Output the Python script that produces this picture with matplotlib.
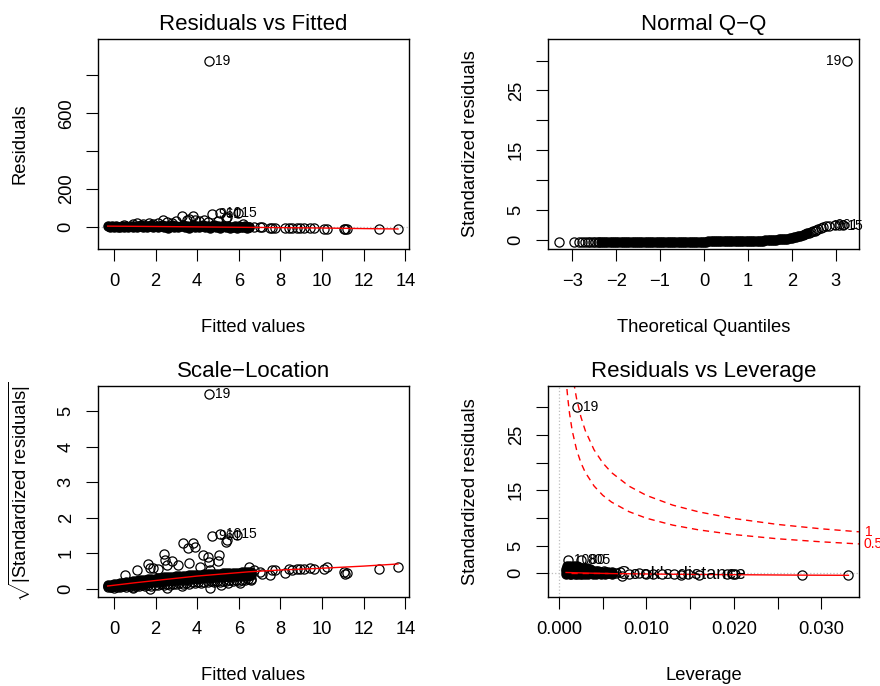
import matplotlib
matplotlib.use("Agg")
import matplotlib.pyplot as plt
from matplotlib.lines import Line2D

plt.rcParams['font.family'] = ['Liberation Sans', 'DejaVu Sans']
plt.rcParams['mathtext.fontset'] = 'custom'
plt.rcParams['mathtext.rm'] = 'Liberation Sans'
plt.rcParams['mathtext.it'] = 'Liberation Sans:italic'

# ---- Residuals vs Fitted / Scale-Location (shared fitted values) ----
fit_band = [-0.3, -0.2, -0.1, 0.0, 0.1, 0.2, 0.3, 0.4, 0.5, 0.6,
            0.7, 0.8, 0.9, 1.0, 1.1, 1.2, 1.3, 1.4, 1.5, 1.6,
            1.7, 1.8, 1.9, 2.0, 2.1, 2.2, 2.3, 2.4, 2.5, 2.6,
            2.7, 2.8, 2.9, 3.0, 3.1, 3.2, 3.3, 3.4, 3.5, 3.6,
            3.7, 3.8, 3.9, 4.0, 4.1, 4.2, 4.3, 4.4, 4.5, 4.6,
            4.7, 4.8, 4.9, 5.0, 5.1, 5.2, 5.3, 5.4, 5.5, 5.6,
            5.7, 5.8, 5.9, 6.0, 6.1, 6.2, 6.3, 6.4, 6.5]
res_band = [2, -3, 4, -1, 3, -4, 1, 5, -2, 3,
            -3, 6, -1, 4, -4, 2, 7, -2, 5, -3,
            3, 8, -1, 6, -4, 2, 9, -2, 5, -5,
            3, 10, -1, 6, -4, 2, 8, -3, 5, -5,
            4, 9, -2, 6, -4, 3, 7, -3, 5, -5,
            2, 8, -2, 4, -6, 3, 6, -4, 2, -5,
            1, 5, -6, 2, -4, 0, 3, -5, -2]
fit_up = [0.5, 0.9, 1.1, 1.4, 1.7, 1.9, 2.1, 2.37, 2.55, 2.8, 3.0, 3.27,
          3.5, 3.6, 3.78, 3.9, 4.1, 4.33, 4.5, 5.0, 5.42, 5.38, 5.95, 6.2]
res_up = [10, 12, 18, 14, 20, 16, 22, 35, 25, 18, 28, 58,
          35, 42, 55, 38, 30, 35, 25, 30, 50, 45, 71, 12]
fit_tail = [6.47, 6.71, 7.03, 7.12, 7.52, 7.6, 7.76, 8.2, 8.4, 8.56, 8.8,
            8.95, 9.12, 9.44, 9.6, 10.08, 10.24, 11.04, 11.12, 11.2, 12.72, 13.65]
res_tail = [-2, -3, -4, -4, -5, -5, -6, -7, -7, -8, -8,
            -8, -9, -9, -9, -10, -10, -11, -11, -11, -12, -13]
sl_tail = [0.62, 0.53, 0.48, 0.43, 0.39, 0.53, 0.53, 0.45, 0.55, 0.53, 0.57,
           0.55, 0.57, 0.6, 0.55, 0.57, 0.62, 0.48, 0.43, 0.45, 0.55, 0.62]
id_labels = ["19", "961", "1015"]
fit_id = [4.57, 4.7, 5.1]
res_id = [877, 67, 74]
sl_id = [5.48, 1.48, 1.55]
rvf_smooth_x = [-0.3, 2, 4, 6, 8, 10, 12, 13.65]
rvf_smooth_y = [3, 1, -1, -3, -5, -7, -10, -12]

# Scale-Location band
sl_band_x = [-0.3, -0.15, 0.0, 0.15, 0.3, 0.45, 0.6, 0.75, 0.9, 1.05, 1.2, 1.35,
             1.5, 1.65, 1.8, 1.95, 2.1, 2.25, 2.4, 2.55, 2.7, 2.85, 3.0, 3.15,
             3.3, 3.45, 3.6, 3.75, 3.9, 4.05, 4.2, 4.35, 4.5, 4.65, 4.8, 4.95,
             5.1, 5.25, 5.4, 5.55, 5.7, 5.85, 6.0, 6.15, 6.3, 6.45, 6.6]
sl_high = [.10, .11, .13, .14, .16, .17, .19, .20, .21, .22, .24, .25,
           .26, .27, .28, .29, .30, .31, .32, .33, .33, .34, .35, .36,
           .36, .37, .38, .38, .39, .40, .40, .41, .41, .42, .42, .43,
           .43, .44, .44, .44, .45, .45, .45, .46, .46, .46, .47]
sl_mid = [.07, .06, .08, .07, .09, .08, .11, .10, .13, .12, .15, .14,
          .17, .16, .19, .18, .21, .20, .23, .22, .24, .23, .26, .25,
          .27, .26, .29, .28, .30, .29, .31, .30, .32, .31, .33, .32,
          .34, .33, .35, .34, .36, .35, .36, .36, .37, .37, .38]
sl_low = [.04, .05, .03, .06, .04, .07, .05, .08, .06, .09, .07, .10,
          .08, .11, .09, .12, .10, .13, .11, .14, .12, .15, .13, .16,
          .14, .17, .15, .18, .16, .19, .17, .20, .18, .21, .19, .22,
          .20, .23, .21, .24, .22, .25, .23, .26, .24, .27, .28]
sl_up_x = [0.53, 1.09, 1.65, 1.74, 1.9, 2.14, 2.42, 2.47, 2.53, 2.77, 3.1, 3.3, 3.54,
           3.61, 3.78, 3.9, 4.13, 4.29, 4.53, 4.59, 4.6, 5.02, 5.05, 5.38, 5.42, 5.93]
sl_up_y = [0.4, 0.52, 0.7, 0.58, 0.6, 0.57, 0.99, 0.8, 0.68, 0.77, 0.66, 1.29, 1.15,
           0.74, 1.29, 1.17, 0.61, 0.94, 0.89, 0.76, 0.54, 0.78, 0.96, 1.33, 1.37, 1.52]
sl_lo_x = [0.93, 1.73, 2.53, 3.25, 4.63, 5.15, 5.5, 6.05, 6.6]
sl_lo_y = [0.01, 0.0, 0.03, 0.07, 0.03, 0.1, 0.17, 0.17, 0.25]
sl_smooth_x = [-0.3, 1, 2.4, 4, 6.5, 8, 10, 12, 13.65]
sl_smooth_y = [0.08, 0.17, 0.26, 0.36, 0.48, 0.53, 0.58, 0.64, 0.70]

# ---- Normal Q-Q ----
qq_x_left = [-3.31, -2.97, -2.85, -2.78, -2.70, -2.65, -2.59, -2.53, -2.48, -2.42, -2.38]
qq_y_left = [-0.42, -0.42, -0.42, -0.41, -0.41, -0.41, -0.41, -0.41, -0.42, -0.42, -0.42]
qq_x_mid = [-2.35, -2.30, -2.25, -2.20, -2.15, -2.10, -2.05, -2.00, -1.95, -1.90,
            -1.85, -1.80, -1.75, -1.70, -1.65, -1.60, -1.55, -1.50, -1.45, -1.40,
            -1.35, -1.30, -1.25, -1.20, -1.15, -1.10, -1.05, -1.00,
            -0.95, -0.90, -0.85, -0.80, -0.75, -0.70, -0.65, -0.60, -0.55, -0.50,
            -0.45, -0.40, -0.35, -0.30, -0.25, -0.20, -0.15, -0.10, -0.05, 0.00,
            0.05, 0.10, 0.15, 0.20, 0.25, 0.30, 0.35, 0.40, 0.45, 0.50,
            0.55, 0.60, 0.65, 0.70, 0.75, 0.80, 0.85, 0.90, 0.95, 1.00,
            1.05, 1.10, 1.15, 1.20, 1.25, 1.30, 1.35, 1.40, 1.45, 1.50,
            1.55, 1.60, 1.65, 1.70, 1.75, 1.80, 1.85, 1.90, 1.95, 2.00,
            2.05, 2.10, 2.15, 2.20, 2.25, 2.30, 2.35]
qq_y_mid = [-0.42, -0.42, -0.41, -0.41, -0.41, -0.40, -0.40, -0.40, -0.39, -0.39,
            -0.39, -0.38, -0.38, -0.38, -0.37, -0.37, -0.37, -0.36, -0.36, -0.36,
            -0.36, -0.35, -0.35, -0.35, -0.35, -0.34, -0.34, -0.34,
            -0.34, -0.34, -0.33, -0.33, -0.33, -0.33, -0.32, -0.32, -0.32, -0.32,
            -0.31, -0.31, -0.31, -0.31, -0.30, -0.30, -0.30, -0.30, -0.29, -0.29,
            -0.29, -0.28, -0.28, -0.28, -0.27, -0.27, -0.27, -0.26, -0.26, -0.26,
            -0.25, -0.25, -0.24, -0.24, -0.23, -0.23, -0.22, -0.22, -0.21, -0.21,
            -0.20, -0.19, -0.18, -0.17, -0.16, -0.14, -0.12, -0.10, -0.08, -0.06,
            -0.04, -0.01, 0.02, 0.05, 0.08, 0.12, 0.16, 0.21, 0.27, 0.33,
            0.40, 0.48, 0.58, 0.70, 0.82, 0.96, 1.10]
qq_x_right = [2.40, 2.44, 2.48, 2.52, 2.56, 2.61, 2.66, 2.71, 2.77, 2.86, 2.98, 3.08, 3.16, 3.26]
qq_y_right = [1.22, 1.32, 1.45, 1.55, 1.68, 1.80, 1.95, 2.10, 2.30, 2.36, 2.40, 2.45, 2.50, 29.9]

# ---- Residuals vs Leverage ----
lev_cl = [0.0008, 0.0010, 0.0012, 0.0014, 0.0016, 0.0018, 0.0020, 0.0022, 0.0024, 0.0026, 0.0028,
          0.0030, 0.0033, 0.0036, 0.0039, 0.0042, 0.0045, 0.0048, 0.0052, 0.0056, 0.0060]
lev_r_a = [-0.1, 0.0, -0.2, -0.1, 0.0, -0.2, -0.1, 0.0, -0.1, -0.2, 0.0,
           -0.1, -0.1, 0.0, -0.1, -0.2, 0.0, -0.1, -0.1, 0.0, -0.1]
lev_r_b = [0.4, 0.3, 0.5, 0.3, 0.4, 0.4, 0.3, 0.5, 0.3, 0.4, 0.3,
           0.3, 0.4, 0.2, 0.3, 0.2, 0.3, 0.1, 0.2, 0.1, 0.1]
lev_r_c = [0.8, 0.9, 0.7, 0.9, 0.8, 0.8, 0.9, 0.7, 0.8, 0.7, 0.7,
           0.6, 0.6, 0.5, 0.5, 0.4, 0.4, 0.3, 0.3, 0.2, 0.2]
lev_top_h = [0.0009, 0.0011, 0.0013, 0.0015, 0.0017, 0.0019, 0.0021, 0.0023, 0.0026, 0.0029, 0.0032, 0.0035]
lev_top_r = [1.3, 1.2, 1.4, 1.2, 1.3, 1.1, 1.3, 1.1, 1.0, 1.0, 0.9, 0.8]
lev_tail_h = [0.0051, 0.0065, 0.0070, 0.0072, 0.0080, 0.0091, 0.0100, 0.0108, 0.0118,
              0.0131, 0.0140, 0.0148, 0.0160, 0.0192, 0.0199, 0.0201, 0.0278, 0.0331]
lev_tail_r = [0.47, 0.1, 0.18, -0.55, -0.1, 0.05, -0.2, -0.13, -0.2,
              -0.13, -0.25, -0.1, -0.3, -0.1, -0.1, -0.2, -0.36, -0.36]
lev_id_labels = ["19", "1080", "805"]
lev_id_h = [0.00202, 0.00097, 0.0025]
lev_id_r = [30.0, 2.45, 2.45]
lev_smooth_x = [0.0008, 0.003, 0.006, 0.01, 0.015, 0.02, 0.0278, 0.0331]
lev_smooth_y = [0.15, 0.05, -0.05, -0.12, -0.2, -0.25, -0.33, -0.36]
# Cook's distance contours
cook_h1 = [0.0015, 0.0017, 0.002, 0.0025, 0.003, 0.004, 0.005, 0.006, 0.008,
           0.010, 0.013, 0.016, 0.020, 0.025, 0.030, 0.0343]
cook_1 = [36.5, 34.27, 31.59, 28.25, 25.78, 22.32, 19.95, 18.20, 15.75,
          14.07, 12.32, 11.09, 9.90, 8.83, 8.04, 7.50]
cook_h05 = [0.0008, 0.0009, 0.001, 0.0012, 0.0015, 0.002, 0.0025, 0.003, 0.004, 0.005,
            0.006, 0.008, 0.010, 0.013, 0.016, 0.020, 0.025, 0.030, 0.0343]
cook_05 = [35.3, 33.3, 31.6, 28.85, 25.8, 22.34, 19.97, 18.23, 15.78, 14.1,
           12.87, 11.14, 9.95, 8.71, 7.84, 7.0, 6.24, 5.69, 5.31]

W, H = 880, 686
fig = plt.figure(figsize=(8.8, 6.86), dpi=100)


def make_axes(left, top, right, bottom):
    return fig.add_axes([left / W, 1 - bottom / H, (right - left) / W, (bottom - top) / H])


def style(ax, box, title, xlabel, ylabel, xlim, ylim, xticks, yticks, xtl=None, ytl=None):
    w = box[2] - box[0]
    h = box[3] - box[1]
    ax.set_xlim(xlim)
    ax.set_ylim(ylim)
    ax.set_xticks(xticks)
    if xtl is not None:
        ax.set_xticklabels(xtl)
    ax.set_yticks(yticks)
    if ytl is not None:
        ax.set_yticklabels(ytl)
    for t in ax.get_yticklabels():
        t.set_rotation(90)
        t.set_va('center')
    ax.tick_params(length=8.6, width=0.8, labelsize=13.2, pad=8)
    ax.tick_params(axis='x', pad=9)
    ax.set_title(title, fontsize=16, pad=6.5)
    ax.set_xlabel(xlabel, fontsize=13.2, va='center')
    ax.xaxis.set_label_coords(0.5, -79 / h)
    ax.set_ylabel(ylabel, fontsize=13.2, va='center')
    ax.yaxis.set_label_coords(-77.7 / w, 0.5)
    for s in ax.spines.values():
        s.set_linewidth(1.0)


pt = dict(ls='none', marker='o', mfc='none', mec='black', ms=6.6, mew=0.9)
# dense cores, where hundreds of R circles overlap into solid black
core = dict(ls='none', marker='o', mfc='black', mec='black', ms=6.6, mew=0.9)
dash = (0, (4.5, 3.5))


def label(ax, x, y, s, side=1):
    ax.annotate(s, xy=(x, y), xytext=(4.5 * side, 0), textcoords='offset points',
                ha='left' if side > 0 else 'right', va='center', fontsize=10,
                annotation_clip=False, zorder=5)


# Residuals vs Fitted
b1 = (97.7, 39, 409, 249)
ax1 = make_axes(*b1)
ax1.axhline(0, color='#BEBEBE', ls=':', lw=0.9, zorder=0)
ax1.plot(fit_up, res_up, **pt)
ax1.plot(fit_band, res_band, **core)
ax1.plot(fit_tail, res_tail, **pt)
ax1.plot(fit_id, res_id, **pt)
ax1.plot(rvf_smooth_x, rvf_smooth_y, color='red', lw=1.0)
for x, y, s in zip(fit_id, res_id, id_labels):
    label(ax1, x, y, s)
style(ax1, b1, "Residuals vs Fitted", "Fitted values", "Residuals",
      (-0.78, 14.18), (-118, 993), list(range(0, 15, 2)), [0, 200, 400, 600, 800],
      ytl=['0', '200', '', '600', ''])

# Normal Q-Q
b2 = (547.7, 39, 859.3, 249)
ax2 = make_axes(*b2)
ax2.plot(qq_x_left, qq_y_left, **pt)
ax2.plot(qq_x_mid, qq_y_mid, **core)
ax2.plot(qq_x_right, qq_y_right, **pt)
label(ax2, qq_x_right[-1], qq_y_right[-1], "19", side=-1)
label(ax2, 2.77, 2.36, "1015")
label(ax2, 2.86, 2.40, "961")
style(ax2, b2, "Normal Q\u2212Q", "Theoretical Quantiles", "Standardized residuals",
      (-3.56, 3.54), (-1.54, 33.6), [-3, -2, -1, 0, 1, 2, 3], [0, 5, 10, 15, 20, 25, 30],
      ytl=['0', '5', '', '15', '', '25', ''])

# Scale-Location
b3 = (97.7, 385.7, 409, 597)
ax3 = make_axes(*b3)
ax3.plot(sl_band_x, sl_low, **pt)
ax3.plot(sl_lo_x, sl_lo_y, **pt)
ax3.plot(sl_up_x, sl_up_y, **pt)
ax3.plot(sl_band_x, sl_mid, **core)
ax3.plot(sl_band_x, sl_high, **core)
ax3.plot(fit_tail, sl_tail, **pt)
ax3.plot(fit_id, sl_id, **pt)
ax3.plot(sl_smooth_x, sl_smooth_y, color='red', lw=1.0)
for x, y, s in zip(fit_id, sl_id, id_labels):
    label(ax3, x, y, s)
style(ax3, b3, "Scale\u2212Location", "Fitted values",
      r"$\sqrt{|\mathrm{Standardized\ residuals}|}$",
      (-0.78, 14.18), (-0.23, 5.72), list(range(0, 15, 2)), [0, 1, 2, 3, 4, 5])

# Residuals vs Leverage
b4 = (547.7, 385.7, 859.3, 597)
ax4 = make_axes(*b4)
ax4.axhline(0, color='#BEBEBE', ls=':', lw=0.9, zorder=0)
ax4.axvline(0, color='#BEBEBE', ls=':', lw=0.9, zorder=0)
ax4.plot(lev_cl, lev_r_a, **core)
ax4.plot(lev_cl, lev_r_b, **core)
ax4.plot(lev_cl, lev_r_c, **core)
ax4.plot(lev_top_h, lev_top_r, **core)
ax4.plot(lev_tail_h, lev_tail_r, **pt)
ax4.plot(lev_id_h, lev_id_r, **pt)
ax4.plot(lev_smooth_x, lev_smooth_y, color='red', lw=1.0)
ax4.plot(cook_h05, cook_05, color='red', lw=1.0, ls=dash)
ax4.plot(cook_h1, cook_1, color='red', lw=1.0, ls=dash)
for x, y, s in zip(lev_id_h, lev_id_r, lev_id_labels):
    label(ax4, x, y, s)
xr = 0.03434
ax4.annotate("1", xy=(xr, cook_1[-1]), xytext=(4, 0), textcoords='offset points',
             color='red', fontsize=10, va='center', ha='left', annotation_clip=False)
ax4.annotate("0.5", xy=(xr, cook_05[-1]), xytext=(3, 0), textcoords='offset points',
             color='red', fontsize=10, va='center', ha='left', annotation_clip=False)
ax4.legend([Line2D([0], [0], color='red', ls=dash, lw=1.0)], ["Cook's distance"],
           loc='center left', bbox_to_anchor=(0.0745, 0.1055), frameon=False, fontsize=13.2,
           borderpad=0, handlelength=2.0, handletextpad=0.5, borderaxespad=0)
style(ax4, b4, "Residuals vs Leverage", "Leverage", "Standardized residuals",
      (-0.0013, xr), (-4.28, 33.9),
      [0, 0.005, 0.010, 0.015, 0.020, 0.025, 0.030], [0, 5, 10, 15, 20, 25, 30],
      xtl=['0.000', '', '0.010', '', '0.020', '', '0.030'],
      ytl=['0', '5', '', '15', '', '25', ''])

fig.savefig("out.png", dpi=100)
